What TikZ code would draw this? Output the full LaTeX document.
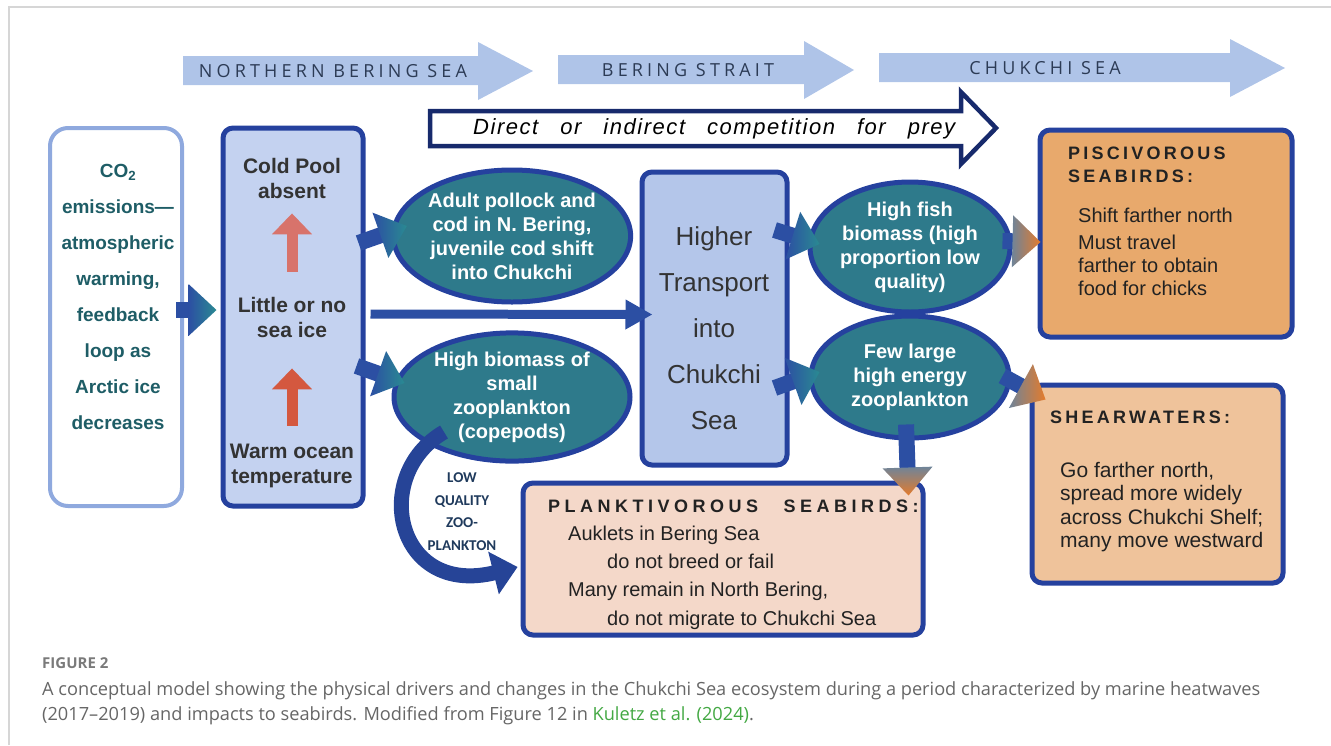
\documentclass[tikz,border=0pt]{standalone}
\usepackage{fontspec}
\setmainfont{Liberation Sans}
\newfontfamily\capfont{Open Sans}
\newfontfamily\bannerfont[LetterSpace=23]{Open Sans}
\newfontfamily\compfont[LetterSpace=7]{Liberation Sans}
\newfontfamily\headfont[LetterSpace=18]{Liberation Sans}
\newfontfamily\lowfont{Carlito}
\usetikzlibrary{arrows.meta, positioning, calc, shapes.geometric}

\definecolor{navyline}{HTML}{25419E}
\definecolor{paleblue}{HTML}{C4D2F0}
\definecolor{boxblue}{HTML}{B4C6EA}
\definecolor{co2line}{HTML}{8FA9DE}
\definecolor{co2text}{HTML}{1E5D66}
\definecolor{darktext}{HTML}{333333}
\definecolor{birdtext}{HTML}{222222}
\definecolor{tealfill}{HTML}{2E7A8B}
\definecolor{bannerblue}{HTML}{AFC4E8}
\definecolor{bannertext}{HTML}{2C3B55}
\definecolor{compnavy}{HTML}{172A6C}
\definecolor{shaftblue}{HTML}{2C4FA3}
\definecolor{headteal}{HTML}{2A8A92}
\definecolor{headgrey}{HTML}{6F8499}
\definecolor{headorange}{HTML}{E47B2C}
\definecolor{piscfill}{HTML}{E8A96C}
\definecolor{shearfill}{HTML}{EFC39B}
\definecolor{planktfill}{HTML}{F4D8C9}
\definecolor{pinkarrow}{HTML}{D8736B}
\definecolor{redarrow}{HTML}{D4583F}
\definecolor{curveblue}{HTML}{264497}
\definecolor{lowtext}{HTML}{1F3A5C}
\definecolor{capgrey}{HTML}{666666}
\definecolor{figgrey}{HTML}{7A7A7A}
\definecolor{linkgreen}{HTML}{43A843}
\definecolor{framegrey}{HTML}{D6D6D6}

\tikzset{
  darkbox/.style={draw=navyline, line width=5pt, rounded corners=10pt, inner sep=0pt},
  oval/.style={ellipse, draw=navyline, line width=5pt, fill=tealfill, text=white,
    inner sep=0pt, align=center, font=\bfseries\fontsize{20}{24}\selectfont},
  txt/.style={inner sep=0pt, align=center},
  icetext/.style={txt, text=darktext, font=\bfseries\fontsize{21}{25}\selectfont},
  birdhead/.style={txt, anchor=west, text=birdtext, align=left, font=\headfont\bfseries\fontsize{18}{23}\selectfont},
  birdbody/.style={txt, anchor=north west, text=birdtext, align=left},
  bannerlabel/.style={txt, text=bannertext, font=\bannerfont\fontsize{18}{22}\selectfont},
  shaft/.style={shaftblue, line width=16pt},
  uparrow/.style={line width=11pt, -{Triangle[length=21pt,width=39pt]}},
}

% block arrow: shaft in blue, shaded head
\newcommand{\blkarrow}[4]{%
  \path #1 coordinate (ba-from) #2 coordinate (ba-to);
  \path ($(ba-to)!28pt!(ba-from)$) coordinate (ba-base);
  \draw[shaft] (ba-from) -- ($(ba-base)!-3pt!(ba-from)$);
  \shade[#4] (ba-to) -- ($(ba-base)!#3!90:(ba-to)$) -- ($(ba-base)!#3!-90:(ba-to)$) -- cycle;
}

\begin{document}
\begin{tikzpicture}[x=1pt, y=-1pt, >=Stealth]
  \useasboundingbox (0,0) rectangle (1331,745);
  \draw[framegrey, line width=1.5pt] (9,745) -- (9,7) -- (1331,7);

  % --- Regions along the top ---
  \foreach \xs/\xh/\xt/\yc/\xl/\txt [count=\i] in
    {183/478/533/71/333/{NORTHERN BERING SEA},
     558/804/854/70/688/{BERING STRAIT},
     879/1230/1285/68/1045/{CHUKCHI SEA}} {
    \fill[bannerblue] (\xs,\yc-15) -- (\xh,\yc-15) -- (\xh,\yc-29) -- (\xt,\yc)
      -- (\xh,\yc+29) -- (\xh,\yc+14) -- (\xs,\yc+14) -- cycle;
    \node[bannerlabel] (banner\i) at (\xl,\yc) {\txt};
  }

  % --- Competition arrow ---
  \draw[compnavy, line width=4.5pt, fill=white] (430,111) -- (961,111) -- (961,92) -- (996,128)
    -- (961,164) -- (961,146) -- (430,146) -- cycle;
  \node[txt, anchor=west, font=\compfont\itshape\fontsize{22}{26}\selectfont] (comp) at (473,129)
    {\spaceskip=22pt Direct or indirect competition for prey};

  % --- Drivers ---
  \node[draw=co2line, line width=4pt, rounded corners=18pt, fill=white, inner sep=0pt,
    minimum width=132pt, minimum height=378pt] (co2) at (116,317) {};
  \node[txt, text=co2text, font=\bfseries\fontsize{19}{36}\selectfont] (co2txt) at (118,297)
    {CO\textsubscript{2}\\emissions—\\atmospheric\\warming,\\feedback\\loop as\\Arctic ice\\decreases};

  \node[darkbox, fill=paleblue, minimum width=140pt, minimum height=378pt] (seaice) at (293,317) {};
  \node[icetext] (cold) at (292,178) {Cold Pool\\absent};
  \node[icetext] (little) at (292,317) {Little or no\\sea ice};
  \node[icetext] (warm) at (292,466) {Warm ocean\\temperature};
  \draw[uparrow, pinkarrow, shorten <=25pt, shorten >=15pt] (little.north) -- (cold.south);
  \draw[uparrow, redarrow, shorten <=18pt, shorten >=31pt] (warm.north) -- (little.south);

  % --- Prey and transport ---
  \node[oval, minimum width=236pt, minimum height=132pt] (pollock) at (512,236)
    {Adult pollock and\\cod in N. Bering,\\juvenile cod shift\\into Chukchi};
  \node[oval, minimum width=236pt, minimum height=118pt] (copepod) at (512,397)
    {High biomass of\\small\\zooplankton\\(copepods)};
  \node[darkbox, fill=boxblue, minimum width=145pt, minimum height=293pt] (transport) at (714.5,318.5) {};
  \node[txt, text=darktext, font=\fontsize{26}{46}\selectfont] (transporttxt) at (714,328)
    {Higher\\Transport\\into\\Chukchi\\Sea};
  \node[oval, minimum width=200pt, minimum height=130pt] (fish) at (910,247)
    {High fish\\biomass (high\\proportion low\\quality)};
  \node[oval, minimum width=198pt, minimum height=122pt] (fewzoo) at (910,377)
    {Few large\\high energy\\zooplankton};

  % --- Seabirds ---
  \node[darkbox, fill=piscfill, minimum width=252pt, minimum height=207pt] (pisc) at (1166,233.5) {};
  \node[birdhead] (pischead) at (1068,164.5) {PISCIVOROUS\\SEABIRDS:};
  \node[birdbody, font=\fontsize{20}{23}\selectfont] (piscbody) at (1078,208)
    {Shift farther north\\[4pt]Must travel\\farther to obtain\\food for chicks};

  \node[darkbox, fill=shearfill, minimum width=251pt, minimum height=198pt] (shear) at (1157.5,484) {};
  \node[birdhead] (shearhead) at (1050,417) {SHEARWATERS:};
  \node[birdbody, font=\fontsize{21}{23.3}\selectfont] (shearbody) at (1060,462)
    {Go farther north,\\spread more widely\\across Chukchi Shelf;\\many move westward};

  \node[darkbox, fill=planktfill, minimum width=400pt, minimum height=152pt] (plankt) at (723,559) {};
  \node[birdhead, font=\headfont\bfseries\addfontfeature{LetterSpace=25}\fontsize{18}{23}\selectfont]
    (planktthead) at (548,506) {PLANKTIVOROUS\hspace{16pt} SEABIRDS:};
  \node[birdbody, font=\fontsize{20}{28.3}\selectfont] (planktbody) at (568,525.5)
    {Auklets in Bering Sea\\\hspace*{39pt}do not breed or fail\\Many remain in North Bering,\\\hspace*{39pt}do not migrate to Chukchi Sea};

  % --- Connectors ---
  \blkarrow{($(co2.east)+(-8,-7)$)}{($(seaice.west)+(-4,-7)$)}{26pt}{left color=shaftblue, right color=headteal}
  \blkarrow{($(seaice.east)+(-7,-74)$)}{($(pollock.west)+(16,-10)$)}{24pt}{left color=shaftblue, right color=headteal}
  \blkarrow{($(seaice.east)+(-9,49)$)}{($(copepod.west)+(13,-14)$)}{24pt}{left color=shaftblue, right color=headteal}
  \draw[shaftblue, line width=9pt, -{Triangle[length=27pt,width=28pt]}]
    ($(seaice.east)+(5,-3)$) -- ($(transport.west)+(13,-4)$);
  \blkarrow{($(transport.east)+(-15,-88.5)$)}{($(fish.west)+(12,-3)$)}{25pt}{left color=shaftblue, right color=headteal}
  \blkarrow{($(transport.east)+(-15,69.5)$)}{($(fewzoo.west)+(11,-5)$)}{25pt}{left color=shaftblue, right color=headteal}
  \blkarrow{($(fish.east)+(-10,-6)$)}{($(pisc.west)+(3,8.5)$)}{26pt}{left color=headgrey, right color=headorange}
  \blkarrow{($(fewzoo.east)+(-9,-1)$)}{($(shear.north west)+(16,17)$)}{25pt}{left color=headgrey, right color=headorange}
  \blkarrow{($(fewzoo.south)+(-4,-16)$)}{($(plankt.north east)+(-17,15)$)}{25pt}{top color=headgrey, bottom color=headorange}

  % low quality loop
  \coordinate (lqtip) at ($(plankt.west)+(-3,8)$);
  \coordinate (lqbase) at ($(lqtip)+(-24,6)$);
  \draw[curveblue, line width=15pt] ($(copepod.center)+(-68,35)$) .. controls +(-74,43) and +(-100,25) .. ($(lqbase)!2pt!(lqtip)$);
  \fill[curveblue] (lqtip) -- ($(lqbase)!22pt!90:(lqtip)$) -- ($(lqbase)!22pt!-90:(lqtip)$) -- cycle;
  \node[txt, text=lowtext, font=\lowfont\bfseries\fontsize{15}{22.7}\selectfont] (lowq) at (462,511.5)
    {LOW\\QUALITY\\ZOO-\\PLANKTON};

  % --- Caption ---
  \node[txt, anchor=west, text=figgrey, font=\capfont\bfseries\fontsize{15}{18}\selectfont] (figno) at (42,663) {FIGURE 2};
  \node[txt, anchor=north west, align=left, text=capgrey, font=\capfont\fontsize{18.2}{25}\selectfont] (caption) at (42,681)
    {A conceptual model showing the physical drivers and changes in the Chukchi Sea ecosystem during a period characterized by marine heatwaves\\(2017–2019) and impacts to seabirds. Modified from Figure 12 in \textcolor{linkgreen}{Kuletz et al. (2024)}.};
\end{tikzpicture}
\end{document}
